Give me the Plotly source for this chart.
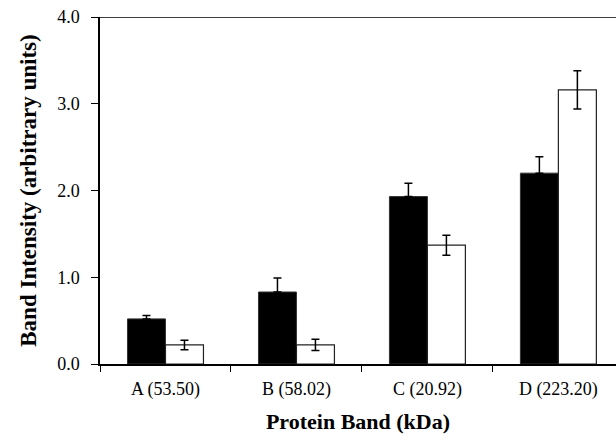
import plotly.graph_objects as go

categories = ["A (53.50)", "B (58.02)", "C (20.92)", "D (223.20)"]
black_vals = [0.52, 0.83, 1.93, 2.20]
black_err = [0.04, 0.16, 0.155, 0.19]
white_vals = [0.22, 0.22, 1.37, 3.16]
white_err = [0.055, 0.065, 0.115, 0.22]
y_ticks = [0, 1, 2, 3, 4]

FONT = "Liberation Serif"

fig = go.Figure()
fig.add_trace(go.Bar(
    x=categories, y=black_vals,
    marker=dict(color="black", line=dict(color="#333", width=1)),
    error_y=dict(type="data", array=black_err, arrayminus=[0]*4, color="black", thickness=1.5, width=4),
    showlegend=False,
))
fig.add_trace(go.Bar(
    x=categories, y=white_vals,
    marker=dict(color="white", line=dict(color="#222", width=1.2)),
    error_y=dict(type="data", array=white_err, color="black", thickness=1.5, width=4),
    showlegend=False,
))

fig.update_layout(
    width=616, height=440,
    margin=dict(l=100, r=0, t=17, b=76),
    paper_bgcolor="white", plot_bgcolor="white",
    barmode="group", bargap=0.42, bargroupgap=0,
    font=dict(family=FONT, size=18, color="black"),
    xaxis=dict(
        range=[-0.5, 3.44], tickson="boundaries", ticks="outside", ticklen=6,
        tickwidth=1.2, tickcolor="black", ticklabelstandoff=8,
        showline=True, linecolor="black", linewidth=1.5, showgrid=False,
        tickfont=dict(family=FONT, size=18),
        title=dict(text="<b>Protein Band (kDa)</b>", font=dict(family=FONT, size=22), standoff=14),
    ),
    yaxis=dict(
        range=[0, 4], tickvals=y_ticks, tickformat=".1f", ticks="outside", ticklen=7,
        tickwidth=1.2, tickcolor="black", ticklabelstandoff=8,
        showline=True, linecolor="black", linewidth=1.5, showgrid=False, zeroline=False,
        tickfont=dict(family=FONT, size=18),
        title=dict(text="<b>Band Intensity (arbitrary units)</b>", font=dict(family=FONT, size=23), standoff=14),
    ),
    shapes=[dict(type="line", xref="paper", yref="y", x0=0, x1=1, y0=4, y1=4,
                 line=dict(color="black", width=1.5))],
)

fig.write_html("out.html")
